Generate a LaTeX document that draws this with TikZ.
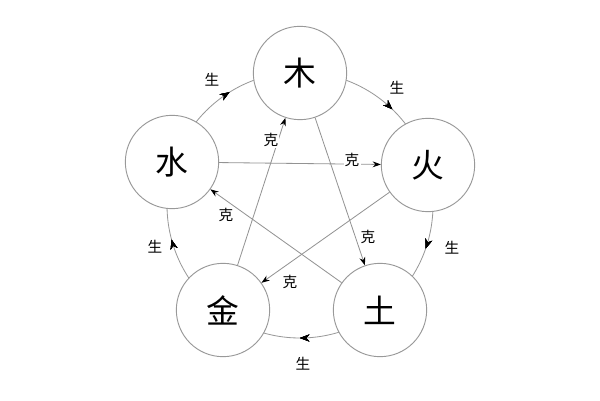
\documentclass[tikz,border=0pt]{standalone}
\usepackage{fontspec}
\newfontfamily\cjk{Noto Sans CJK SC}
\usetikzlibrary{decorations.markings,arrows.meta}
\begin{document}
\begin{tikzpicture}[x=0.03cm,y=-0.03cm,
  el/.style={circle,draw=gray!80,line width=0.8pt,fill=white,minimum size=2.8cm,inner sep=0pt,font=\cjk\fontsize{28}{28}\selectfont},
  lbl/.style={font=\cjk\fontsize{12.5}{12.5}\selectfont,fill=white,inner sep=1pt},
  ke/.style={draw=gray!85,line width=0.7pt,-{Stealth[length=7pt,width=5pt,color=black]}},
  mk/.style={postaction={decorate},decoration={markings,mark=at position #1 with {\arrow[black]{Stealth[length=8pt,width=6pt]}}}}]
\useasboundingbox (0,0) rectangle (600,400);
\fill[white] (0,0) rectangle (600,400);
\draw[gray!80,line width=0.7pt,mk=0.053,mk=0.25,mk=0.458,mk=0.661,mk=0.872] (300,205) circle[radius=133];
\node[el] (mu) at (300,73) {木};
\node[el] (huo) at (428,165) {火};
\node[el] (tu) at (380,310) {土};
\node[el] (jin) at (223,310) {金};
\node[el] (shui) at (172,162) {水};
\draw[ke] (mu) -- (tu);
\draw[ke] (tu) -- (shui);
\draw[ke] (shui) -- (huo);
\draw[ke] (huo) -- (jin);
\draw[ke] (jin) -- (mu);
\node[lbl] (k1) at (271,140) {克};
\node[lbl] (k2) at (352,160) {克};
\node[lbl] (k3) at (226,215) {克};
\node[lbl] (k4) at (368,237) {克};
\node[lbl] (k5) at (290,282) {克};
\node[lbl] (s1) at (212,80) {生};
\node[lbl] (s2) at (397,88) {生};
\node[lbl] (s3) at (452,248) {生};
\node[lbl] (s4) at (303,364) {生};
\node[lbl] (s5) at (155,247) {生};
\end{tikzpicture}
\end{document}
